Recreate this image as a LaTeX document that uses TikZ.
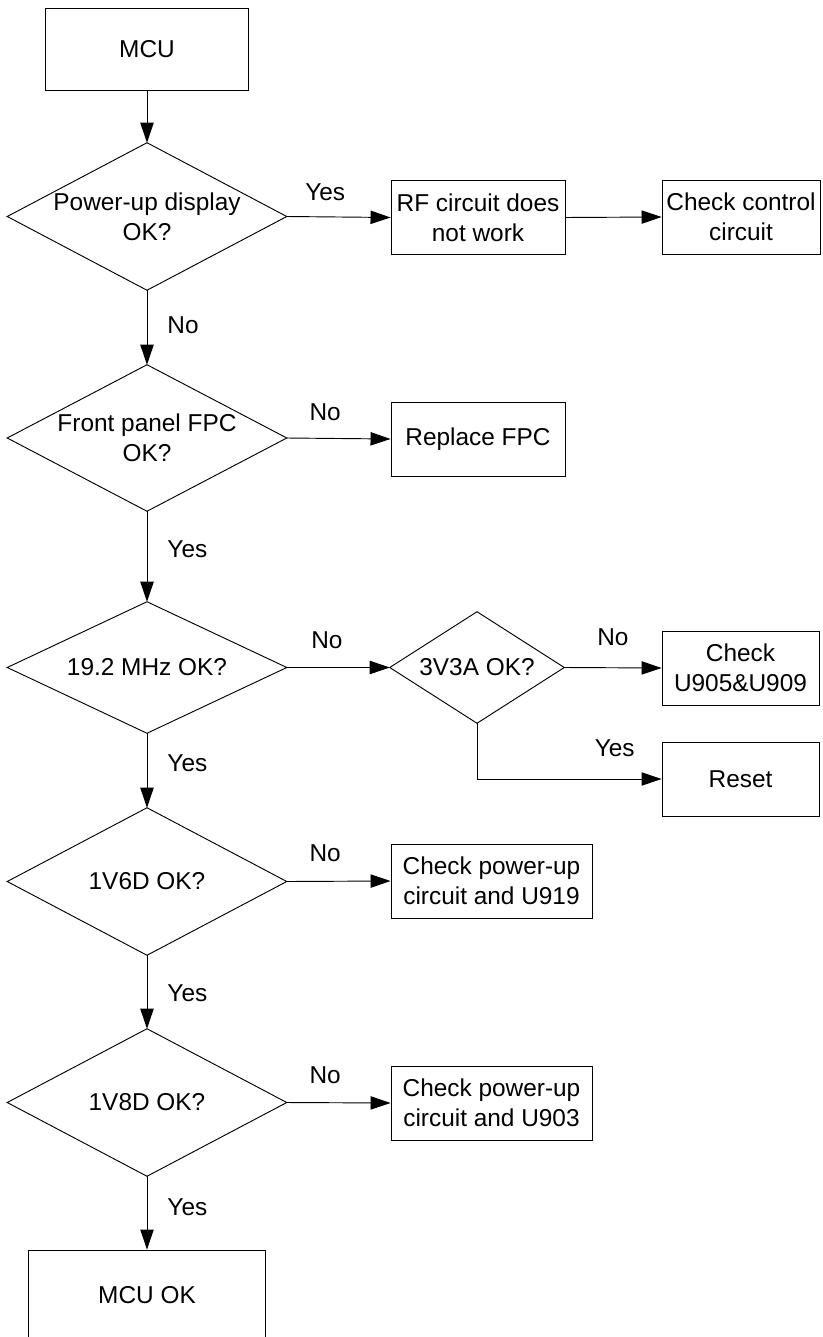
\documentclass[tikz,border=0pt]{standalone}
\usepackage{fontspec}
\setmainfont{Liberation Sans}
\usetikzlibrary{positioning,arrows.meta}
\definecolor{fcLine}{HTML}{000000}
\definecolor{fcText}{HTML}{000000}
\newcommand\fcFont{\fontsize{18.3}{22.5}\selectfont}

\tikzset{
  blk/.style={draw=fcLine, line width=0.7pt, rectangle, inner sep=0pt,
    align=center, font=\fcFont, text=fcText},
  dec/.style={rectangle, inner sep=0pt, align=center, font=\fcFont, text=fcText,
    append after command={\pgfextra{\draw[fcLine, line width=0.7pt]
      (\tikzlastnode.north) -- (\tikzlastnode.east) -- (\tikzlastnode.south)
      -- (\tikzlastnode.west) -- cycle;}}},
  arr/.style={draw=fcLine, line width=0.7pt, -{Triangle[length=15pt,width=10pt]}},
  lbl/.style={inner sep=0pt, font=\fcFont, text=fcText},
}

\begin{document}
\begin{tikzpicture}[x=0.75pt, y=-0.75pt]

% --- PAGE ---
\useasboundingbox (0,0) rectangle (822,1337);

\def\colX{147}    % main column
\def\colB{478}    % second column
\def\colC{740.5}  % third column

% --- MAIN COLUMN ---
\node[blk, minimum width=152.25pt, minimum height=61.5pt] (mcu) at (\colX,49) {MCU};
\node[dec, minimum width=209.25pt, minimum height=110.25pt] (d1) at (\colX,216.5)
  {Power-up display\\OK?};
\node[dec, minimum width=209.25pt, minimum height=109.5pt] (d2) at (\colX,438)
  {Front panel FPC\\OK?};
\node[dec, minimum width=209.25pt, minimum height=98.25pt] (d3) at (\colX,667.5)
  {19.2 MHz OK?};
\node[dec, minimum width=209.25pt, minimum height=110.25pt] (d4) at (\colX,881.5)
  {1V6D OK?};
\node[dec, minimum width=209.25pt, minimum height=110.25pt] (d5) at (\colX,1102.5)
  {1V8D OK?};
\node[blk, minimum width=177.75pt, minimum height=67.5pt] (ok) at (\colX,1295) {MCU OK};

% --- SIDE BOXES ---
\node[blk, minimum width=130.5pt, minimum height=55.5pt] (rf) at (\colB,217.5)
  {RF circuit does\\not work};
\node[blk, minimum width=118.5pt, minimum height=55.5pt] (ctrl) at (741,217)
  {Check control\\circuit};
\node[blk, minimum width=130.5pt, minimum height=55.5pt] (fpc) at (\colB,439)
  {Replace FPC};
\node[dec, minimum width=130.5pt, minimum height=83.25pt] (d3v3) at (477,667.5)
  {3V3A OK?};
\node[blk, minimum width=117.75pt, minimum height=55.5pt] (u905) at (\colC,668)
  {Check\\U905\&U909};
\node[blk, minimum width=117.75pt, minimum height=55.5pt] (reset) at (\colC,779)
  {Reset};
\node[blk, minimum width=150.75pt, minimum height=55.5pt] (u919) at (491.5,881)
  {Check power-up\\circuit and U919};
\node[blk, minimum width=150.75pt, minimum height=55.5pt] (u903) at (491.5,1103)
  {Check power-up\\circuit and U903};

% --- VERTICAL CONNECTORS ---
\draw[arr] (mcu.south) -- (d1.north);
\foreach \a/\b/\t/\p in {d1/d2/No/0.47, d2/d3/Yes/0.42, d3/d4/Yes/0.4,
                         d4/d5/Yes/0.51, d5/ok/Yes/0.42} {
  \draw[arr] (\a.south) -- node[lbl, pos=\p, right=15pt] (v\a) {\t} (\b.north);
}

% --- HORIZONTAL CONNECTORS ---
\draw[arr] (d1.east) -- node[lbl, pos=0.37, above=12pt] (h1) {Yes} (rf.west);
\draw[arr] (rf.east) -- (ctrl.west);
\draw[arr] (d2.east) -- node[lbl, pos=0.37, above=13pt] (h2) {No} (fpc.west);
\draw[arr] (d3.east) -- node[lbl, pos=0.39, above=14pt] (h3) {No} (d3v3.west);
\draw[arr] (d3v3.east) -- node[lbl, pos=0.5, above=16pt] (h4) {No} (u905.west);
\draw[arr] (d3v3.south) |- node[lbl, pos=0.873, above=16pt] (h5) {Yes} (reset.west);
\draw[arr] (d4.east) -- node[lbl, pos=0.37, above=14pt] (h6) {No} (u919.west);
\draw[arr] (d5.east) -- node[lbl, pos=0.37, above=14pt] (h7) {No} (u903.west);

\end{tikzpicture}
\end{document}
